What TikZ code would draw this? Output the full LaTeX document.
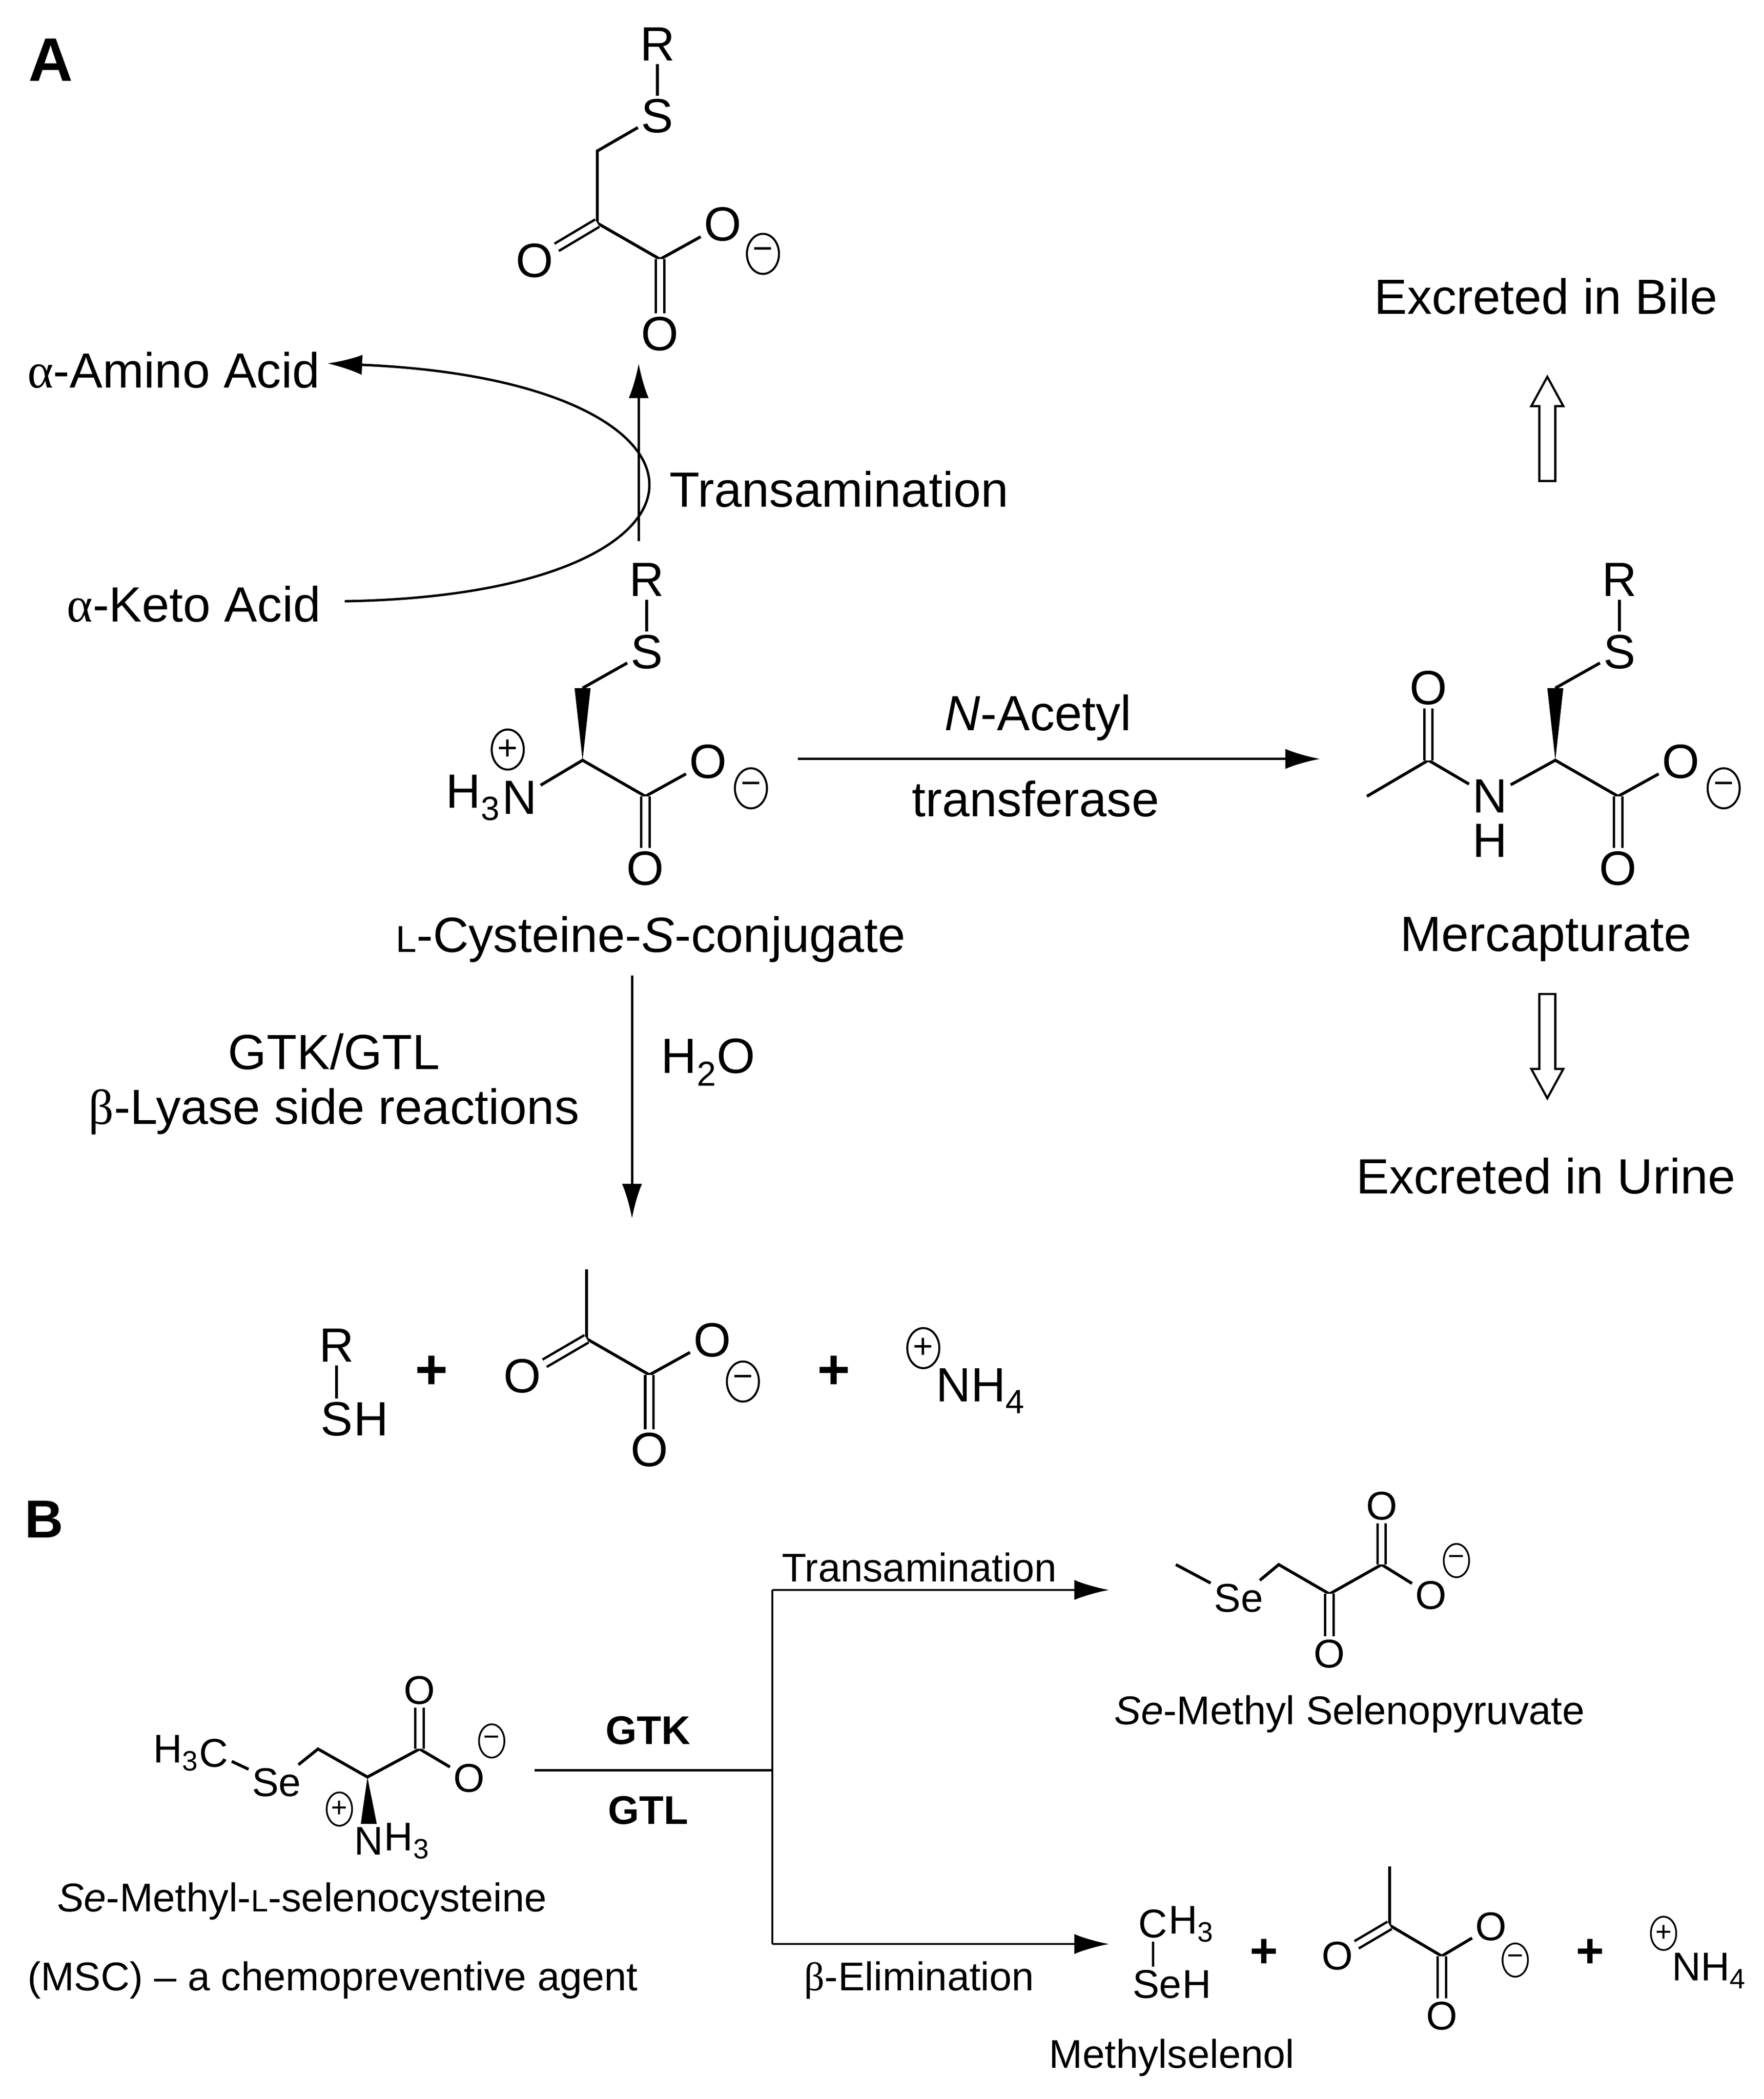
\documentclass[tikz,border=0pt]{standalone}
\usepackage{fontspec}
\setmainfont{Liberation Sans}
\newfontfamily\grk{Liberation Serif}
\usetikzlibrary{arrows.meta,shapes.geometric,calc}
\begin{document}
\begin{tikzpicture}[x=1pt,y=-1pt,line width=2.2pt,
  every node/.style={inner sep=1pt},
  tA/.style={font=\fontsize{37}{40}\selectfont},
  tB/.style={font=\fontsize{30}{33}\selectfont},
  atm/.style={font=\fontsize{36}{38}\selectfont,inner sep=1.5pt},
  atB/.style={font=\fontsize{30}{32}\selectfont,inner sep=1.5pt},
  dbl/.style={double,double distance=4.5pt,line width=1.8pt},
  chg/.style={draw,ellipse,line width=1.5pt,minimum width=24pt,minimum height=30pt,inner sep=0pt,font=\fontsize{26}{26}\selectfont},
  chgB/.style={draw,ellipse,line width=1.3pt,minimum width=19pt,minimum height=25pt,inner sep=0pt,font=\fontsize{21}{21}\selectfont},
  arr/.style={-{Latex[length=26pt,width=15pt]}},
  plusb/.style={font=\fontsize{42}{42}\selectfont\bfseries},
  openup/.pic={\draw[line width=1.6pt,fill=white] (-6,0) -- (-6,-56) -- (-12,-56) -- (0,-78) -- (12,-56) -- (6,-56) -- (6,0) -- cycle;}
]
\useasboundingbox (0,0) rectangle (1320,1571);

% ---------- Labels A
\node[font=\fontsize{46}{46}\selectfont\bfseries] (lA) at (38,45) {A};
\node[tA] (aa) at (130,277) {{\grk α}-Amino Acid};
\node[tA] (ka) at (145,452) {{\grk α}-Keto Acid};
\node[tA] (trA) at (628,366) {Transamination};
\node[tA] (nac) at (777,537) {\textit{N}-Acetyl};
\node[tA] (trf) at (775,598) {transferase};
\node[tA] (cys) at (487,703) {{\fontsize{28}{30}\selectfont L}-Cysteine-\textit{S}-conjugate};
\node[tA] (merc) at (1157,703) {Mercapturate};
\node[tA] (bile) at (1157,222) {Excreted in Bile};
\node[tA] (urine) at (1157,880) {Excreted in Urine};
\node[tA] (h2o) at (530,795) {H\textsubscript{2}O};
\node[tA] (gtk) at (250,787) {GTK/GTL};
\node[tA] (bly) at (250,832) {{\grk β}-Lyase side reactions};

% ---------- Top pyruvate
\node[atm] (tR) at (492,33) {R};
\node[atm] (tS) at (492,87) {S};
\coordinate (t1) at (447,113);
\coordinate (t2) at (447,167);
\node[atm] (tOk) at (400,195) {O};
\coordinate (t3) at (494,194);
\node[atm] (tOb) at (494,250) {O};
\node[atm] (tOa) at (541,168) {O};
\node[chg] (tm) at (571,190) {−};
\draw (tR) -- (tS) -- (t1) -- (t2) -- (t3) -- (tOa);
\draw[dbl] (t2) -- (tOk);
\draw[dbl] (t3) -- (tOb);

% ---------- Cysteine conjugate
\node[atm] (cR) at (484,434) {R};
\node[atm] (cS) at (484,488) {S};
\coordinate (c1) at (436,515);
\coordinate (cC) at (436,569);
\node[atm] (cN) at (389,597) {N};
\node[atm,anchor=east,inner sep=0pt,xshift=2pt] (cH) at (cN.west) {H\textsubscript{3}};
\node[chg] (cp) at (380,561) {+};
\coordinate (c3) at (483,596);
\node[atm] (cOb) at (483,650) {O};
\node[atm] (cOa) at (530,570) {O};
\node[chg] (cm) at (562,590) {−};
\draw (cR) -- (cS) -- (c1);
\fill (cC) -- ($(c1)+(-6,0)$) -- ($(c1)+(6,0)$) -- cycle;
\draw (cN) -- (cC) -- (c3) -- (cOa);
\draw[dbl] (c3) -- (cOb);

% ---------- Mercapturate
\node[atm] (mR) at (1212,434) {R};
\node[atm] (mS) at (1212,488) {S};
\coordinate (m1) at (1164,515);
\coordinate (mC) at (1164,569);
\node[atm] (mN) at (1115,596) {N};
\node[atm] (mH) at (1115,629) {H};
\coordinate (ma) at (1069,569);
\node[atm] (mO) at (1069,515) {O};
\coordinate (mMe) at (1023,596);
\coordinate (m3) at (1211,596);
\node[atm] (mOb) at (1211,650) {O};
\node[atm] (mOa) at (1258,570) {O};
\node[chg] (mm) at (1290,590) {−};
\draw (mR) -- (mS) -- (m1);
\fill (mC) -- ($(m1)+(-6,0)$) -- ($(m1)+(6,0)$) -- cycle;
\draw (mMe) -- (ma) -- (mN) -- (mC) -- (m3) -- (mOa);
\draw[dbl] (ma) -- (mO);
\draw[dbl] (m3) -- (mOb);

% ---------- bottom products A
\node[atm] (bR) at (252,1007) {R};
\node[atm] (bS) at (252,1062) {S};
\node[atm,anchor=west,inner sep=0pt,xshift=-3pt] (bH) at (bS.east) {H};
\draw (bR) -- (bS);
\node[plusb] (p1) at (323,1027) {+};
\coordinate (bMe) at (439,950);
\coordinate (b2) at (439,1002);
\node[atm] (bOk) at (391,1030) {O};
\coordinate (b3) at (486,1029);
\node[atm] (bOb) at (486,1085) {O};
\node[atm] (bOa) at (533,1003) {O};
\node[chg] (bm) at (556,1034) {−};
\draw (bMe) -- (b2) -- (b3) -- (bOa);
\draw[dbl] (b2) -- (bOk);
\draw[dbl] (b3) -- (bOb);
\node[plusb] (p2) at (624,1027) {+};
\node[atm] (nh4) at (734,1041) {NH\textsubscript{4}};
\node[chg] (np) at (691,1009) {+};

% ---------- arrows A
\coordinate (kaE) at (258,450);
\coordinate (aaE) at (245,272);
\draw[arr,line width=1.8pt] (kaE) .. controls (560,445) and (560,285) .. (aaE);
\coordinate (up1) at (478,405);
\coordinate (up2) at (478,272);
\draw[arr,line width=1.8pt] (up1) -- (up2);
\coordinate (h1) at (597,568);
\coordinate (h2) at (988,568);
\draw[arr,line width=1.8pt] (h1) -- (h2);
\coordinate (d1) at (473,730);
\coordinate (d2) at (473,912);
\draw[arr,line width=1.8pt] (d1) -- (d2);
\pic at (1158,360) {openup};
\pic[rotate=180] at (1158,744) {openup};

% ---------- Part B
\node[font=\fontsize{40}{40}\selectfont\bfseries] (lB) at (33,1137) {B};
\node[atB] (sC) at (160,1312) {C};
\node[atB,anchor=east,inner sep=0pt,xshift=3pt] (sH) at (sC.west) {H\textsubscript{3}};
\node[atB] (sSe) at (207,1334) {Se};
\coordinate (s1) at (238,1309);
\coordinate (sCa) at (275,1330);
\coordinate (s3) at (314,1309);
\node[atB] (sOt) at (314,1265) {O};
\node[atB] (sOr) at (351,1331) {O};
\node[chgB] (sm) at (368,1303) {−};
\node[atB] (sN) at (276,1378) {N};
\node[atB,anchor=west,inner sep=0pt,xshift=-3pt] (sNH) at (sN.east) {H\textsubscript{3}};
\node[chgB] (sp) at (254,1354) {+};
\draw (sC) -- (sSe) -- (s1) -- (sCa) -- (s3) -- (sOr);
\draw[dbl] (s3) -- (sOt);
\fill (sCa) -- ($(sN.north)+(-6,0)$) -- ($(sN.north)+(6,0)$) -- cycle;

\node[tB] (msc1) at (226,1423) {\textit{Se}-Methyl-{\fontsize{23}{25}\selectfont L}-selenocysteine};
\node[tB] (msc2) at (249,1482) {(MSC) – a chemopreventive agent};

\node[tB,font=\fontsize{30}{33}\selectfont\bfseries] (gtkb) at (485,1295) {GTK};
\node[tB,font=\fontsize{30}{33}\selectfont\bfseries] (gtlb) at (485,1355) {GTL};
\coordinate (j0) at (400,1325);
\coordinate (j1) at (578,1325);
\coordinate (jt) at (578,1190);
\coordinate (jb) at (578,1455);
\coordinate (et) at (830,1190);
\coordinate (eb) at (830,1455);
\draw[line width=1.6pt] (j0) -- (j1);
\draw[line width=1.6pt] (jt) -- (jb);
\draw[arr,line width=1.6pt] (jt) -- (et);
\draw[arr,line width=1.6pt] (jb) -- (eb);
\node[tB] (trB) at (688,1173) {Transamination};
\node[tB] (bel) at (688,1482) {{\grk β}-Elimination};

% Se-methyl selenopyruvate
\coordinate (qMe) at (880,1171);
\node[atB] (qSe) at (927,1196) {Se};
\coordinate (q1) at (957,1171);
\coordinate (q2) at (995,1193);
\node[atB] (qOb) at (995,1238) {O};
\coordinate (q3) at (1034,1171);
\node[atB] (qOt) at (1034,1127) {O};
\node[atB] (qOr) at (1071,1194) {O};
\node[chgB] (qm) at (1090,1168) {−};
\draw (qMe) -- (qSe) -- (q1) -- (q2) -- (q3) -- (qOr);
\draw[dbl] (q2) -- (qOb);
\draw[dbl] (q3) -- (qOt);
\node[tB] (smsp) at (1010,1283) {\textit{Se}-Methyl Selenopyruvate};

% Methylselenol + pyruvate + NH4
\node[atB] (uC) at (863,1440) {C};
\node[atB,anchor=west,inner sep=0pt,xshift=-3pt] (uH) at (uC.east) {H\textsubscript{3}};
\node[atB] (uSe) at (866,1485) {Se};
\node[atB,anchor=west,inner sep=0pt,xshift=-3pt] (uSH) at (uSe.east) {H};
\draw[line width=1.6pt] (uC.south) -- (uC.south |- uSe.north);
\node[plusb,font=\fontsize{36}{36}\selectfont\bfseries] (p3) at (946,1462) {+};
\coordinate (vMe) at (1040,1397);
\coordinate (v2) at (1040,1441);
\node[atB] (vOk) at (1001,1464) {O};
\coordinate (v3) at (1079,1464);
\node[atB] (vOb) at (1079,1509) {O};
\node[atB] (vOa) at (1116,1442) {O};
\node[chgB] (vm) at (1134,1467) {−};
\draw (vMe) -- (v2) -- (v3) -- (vOa);
\draw[dbl] (v2) -- (vOk);
\draw[dbl] (v3) -- (vOb);
\node[plusb,font=\fontsize{36}{36}\selectfont\bfseries] (p4) at (1190,1462) {+};
\node[atB] (unh) at (1279,1475) {NH\textsubscript{4}};
\node[chgB] (unp) at (1245,1447) {+};
\node[tB] (msel) at (877,1540) {Methylselenol};
\end{tikzpicture}
\end{document}
